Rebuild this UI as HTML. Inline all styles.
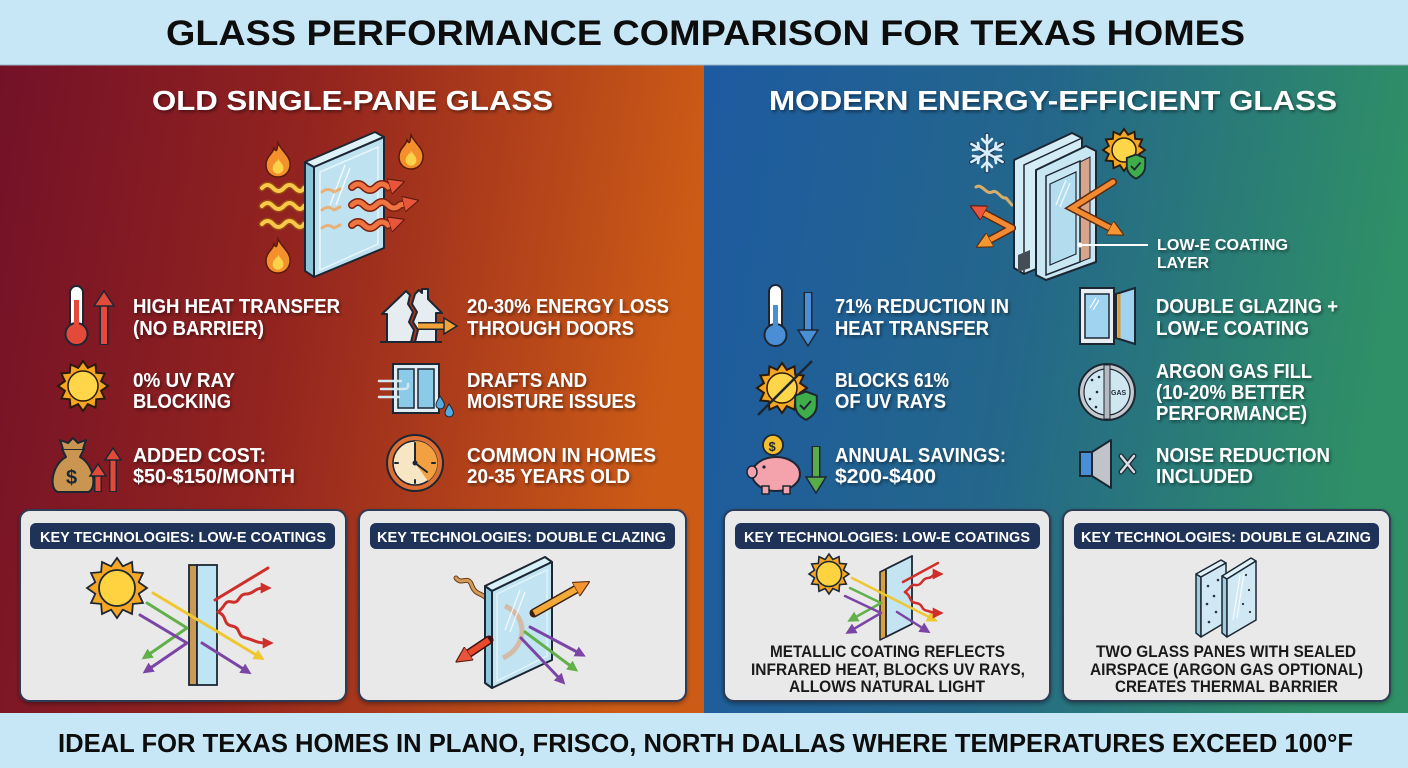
<!DOCTYPE html>
<html><head><meta charset="utf-8"><style>
html,body{margin:0;padding:0;width:1408px;height:768px;overflow:hidden;background:#c8e7f6}
svg{display:block}
text{font-family:"Liberation Sans",Arial,sans-serif;font-weight:bold}
</style></head><body>
<svg width="1408" height="768" viewBox="0 0 1408 768" xmlns="http://www.w3.org/2000/svg">
<defs>
 <linearGradient id="gl" x1="0" y1="0" x2="1" y2="0.15">
  <stop offset="0" stop-color="#731128"/>
  <stop offset="0.45" stop-color="#93241f"/>
  <stop offset="1" stop-color="#cc5b16"/>
 </linearGradient>
 <linearGradient id="gr" x1="0" y1="0" x2="1" y2="0.15">
  <stop offset="0" stop-color="#1d5aa1"/>
  <stop offset="0.5" stop-color="#24678a"/>
  <stop offset="1" stop-color="#2f8f66"/>
 </linearGradient>
 <filter id="sh" x="-5%" y="-20%" width="110%" height="150%">
  <feDropShadow dx="1.5" dy="2" stdDeviation="1.5" flood-color="#000" flood-opacity="0.45"/>
 </filter>
 <filter id="csh" x="-5%" y="-5%" width="110%" height="115%">
  <feDropShadow dx="0" dy="2" stdDeviation="2" flood-color="#000" flood-opacity="0.35"/>
 </filter>
 <polygon id="star" points="100,0 72.4,19.4 86.6,50 53,53 50,86.6 19.4,72.4 0,100 -19.4,72.4 -50,86.6 -53,53 -86.6,50 -72.4,19.4 -100,0 -72.4,-19.4 -86.6,-50 -53,-53 -50,-86.6 -19.4,-72.4 0,-100 19.4,-72.4 50,-86.6 53,-53 86.6,-50 72.4,-19.4"/>
 <path id="flame" d="M0,-17 C4,-8 13,-4 12,6 C11,14 5,17 0,17 C-6,17 -12,13 -12,5 C-12,-4 -5,-6 -4,-12 C-2,-8 -1,-8 0,-17 Z"/>
 <path id="shield" d="M0,-10 L8,-7 L8,0 C8,6 4,9 0,11 C-4,9 -8,6 -8,0 L-8,-7 Z"/>
 <marker id="mo" viewBox="0 0 10 10" refX="3" refY="5" markerUnits="userSpaceOnUse" markerWidth="16" markerHeight="16" orient="auto"><path d="M0,0 L10,5 L0,10 Z" fill="#f3962f" stroke="#5a2a10" stroke-width="0.7"/></marker>
 <marker id="mr" viewBox="0 0 10 10" refX="3" refY="5" markerUnits="userSpaceOnUse" markerWidth="16" markerHeight="16" orient="auto"><path d="M0,0 L10,5 L0,10 Z" fill="#e9553a" stroke="#5a1a10" stroke-width="0.7"/></marker>
 <marker id="mrs" viewBox="0 0 10 10" refX="3" refY="5" markerUnits="userSpaceOnUse" markerWidth="11" markerHeight="11" orient="auto"><path d="M0,0 L10,5 L0,10 Z" fill="#cf2f2a"/></marker>
 <marker id="my" viewBox="0 0 10 10" refX="3" refY="5" markerUnits="userSpaceOnUse" markerWidth="11" markerHeight="11" orient="auto"><path d="M0,0 L10,5 L0,10 Z" fill="#efc72f"/></marker>
 <marker id="mg" viewBox="0 0 10 10" refX="3" refY="5" markerUnits="userSpaceOnUse" markerWidth="11" markerHeight="11" orient="auto"><path d="M0,0 L10,5 L0,10 Z" fill="#62b04a"/></marker>
 <marker id="mp" viewBox="0 0 10 10" refX="3" refY="5" markerUnits="userSpaceOnUse" markerWidth="11" markerHeight="11" orient="auto"><path d="M0,0 L10,5 L0,10 Z" fill="#7b45a6"/></marker>
</defs>

<!-- backgrounds -->
<rect x="0" y="0" width="1408" height="768" fill="#c8e7f6"/>
<rect x="0" y="65" width="704" height="648" fill="url(#gl)"/>
<rect x="704" y="65" width="704" height="648" fill="url(#gr)"/>
<line x1="0" y1="65" x2="1408" y2="65" stroke="#9ab4c2" stroke-width="1"/>

<!-- title -->
<text x="166" y="45" font-size="35" fill="#0d0d0d" textLength="1079" lengthAdjust="spacingAndGlyphs">GLASS PERFORMANCE COMPARISON FOR TEXAS HOMES</text>
<text x="58" y="752" font-size="26" fill="#0d0d0d" textLength="1295" lengthAdjust="spacingAndGlyphs">IDEAL FOR TEXAS HOMES IN PLANO, FRISCO, NORTH DALLAS WHERE TEMPERATURES EXCEED 100°F</text>

<g filter="url(#sh)" fill="#ffffff">
<text x="152" y="110" font-size="28" textLength="401" lengthAdjust="spacingAndGlyphs">OLD SINGLE-PANE GLASS</text>
<text x="769" y="110" font-size="28" textLength="568" lengthAdjust="spacingAndGlyphs">MODERN ENERGY-EFFICIENT GLASS</text>

<g font-size="20">
<text x="133" y="313" textLength="207" lengthAdjust="spacingAndGlyphs">HIGH HEAT TRANSFER</text>
<text x="133" y="335" textLength="131" lengthAdjust="spacingAndGlyphs">(NO BARRIER)</text>
<text x="133" y="387" textLength="102" lengthAdjust="spacingAndGlyphs">0% UV RAY</text>
<text x="133" y="408" textLength="98" lengthAdjust="spacingAndGlyphs">BLOCKING</text>
<text x="133" y="462" textLength="133" lengthAdjust="spacingAndGlyphs">ADDED COST:</text>
<text x="133" y="483" textLength="162" lengthAdjust="spacingAndGlyphs">$50-$150/MONTH</text>

<text x="467" y="313" textLength="202" lengthAdjust="spacingAndGlyphs">20-30% ENERGY LOSS</text>
<text x="467" y="335" textLength="167" lengthAdjust="spacingAndGlyphs">THROUGH DOORS</text>
<text x="467" y="387" textLength="120" lengthAdjust="spacingAndGlyphs">DRAFTS AND</text>
<text x="467" y="408" textLength="169" lengthAdjust="spacingAndGlyphs">MOISTURE ISSUES</text>
<text x="467" y="462" textLength="189" lengthAdjust="spacingAndGlyphs">COMMON IN HOMES</text>
<text x="467" y="483" textLength="163" lengthAdjust="spacingAndGlyphs">20-35 YEARS OLD</text>

<text x="835" y="313" textLength="174" lengthAdjust="spacingAndGlyphs">71% REDUCTION IN</text>
<text x="835" y="335" textLength="154" lengthAdjust="spacingAndGlyphs">HEAT TRANSFER</text>
<text x="835" y="387" textLength="114" lengthAdjust="spacingAndGlyphs">BLOCKS 61%</text>
<text x="835" y="408" textLength="111" lengthAdjust="spacingAndGlyphs">OF UV RAYS</text>
<text x="835" y="462" textLength="171" lengthAdjust="spacingAndGlyphs">ANNUAL SAVINGS:</text>
<text x="835" y="483" textLength="101" lengthAdjust="spacingAndGlyphs">$200-$400</text>

<text x="1156" y="313" textLength="182" lengthAdjust="spacingAndGlyphs">DOUBLE GLAZING +</text>
<text x="1156" y="335" textLength="153" lengthAdjust="spacingAndGlyphs">LOW-E COATING</text>
<text x="1156" y="378" textLength="156" lengthAdjust="spacingAndGlyphs">ARGON GAS FILL</text>
<text x="1156" y="399" textLength="149" lengthAdjust="spacingAndGlyphs">(10-20% BETTER</text>
<text x="1156" y="420" textLength="151" lengthAdjust="spacingAndGlyphs">PERFORMANCE)</text>
<text x="1156" y="462" textLength="174" lengthAdjust="spacingAndGlyphs">NOISE REDUCTION</text>
<text x="1156" y="483" textLength="97" lengthAdjust="spacingAndGlyphs">INCLUDED</text>
</g>
<text x="1157" y="250" font-size="16" textLength="131" lengthAdjust="spacingAndGlyphs">LOW-E COATING</text>
<text x="1157" y="268" font-size="16" textLength="52" lengthAdjust="spacingAndGlyphs">LAYER</text>
</g>

<!-- ===== TOP LEFT ILLUSTRATION ===== -->
<g stroke="#5a1a08" stroke-width="1.5">
 <use href="#flame" transform="translate(278,160)" fill="#f3902c"/>
 <use href="#flame" transform="translate(411,152)" fill="#f3902c"/>
 <use href="#flame" transform="translate(278,256)" fill="#f3902c"/>
</g>
<g fill="#fbd24a">
 <use href="#flame" transform="translate(278,166) scale(0.45)"/>
 <use href="#flame" transform="translate(411,158) scale(0.45)"/>
 <use href="#flame" transform="translate(278,262) scale(0.45)"/>
</g>
<g fill="none" stroke-linecap="round">
 <g stroke="#9a4a10" stroke-width="7">
  <path d="M262,188 q5.5,-6 11,0 t11,0 t11,0 t9,0"/>
  <path d="M262,206 q5.5,-6 11,0 t11,0 t11,0 t9,0"/>
  <path d="M262,224 q5.5,-6 11,0 t11,0 t11,0 t9,0"/>
 </g>
 <g stroke="#f8c84a" stroke-width="4">
  <path d="M262,188 q5.5,-6 11,0 t11,0 t11,0 t9,0"/>
  <path d="M262,206 q5.5,-6 11,0 t11,0 t11,0 t9,0"/>
  <path d="M262,224 q5.5,-6 11,0 t11,0 t11,0 t9,0"/>
 </g>
</g>
<!-- pane -->
<polygon points="305,162 314,167 314,277 305,271" fill="#8ec4da" stroke="#1c2733" stroke-width="2" stroke-linejoin="round"/>
<polygon points="305,162 375,132 384,137 314,167" fill="#dff2f9" stroke="#1c2733" stroke-width="2" stroke-linejoin="round"/>
<polygon points="314,167 384,137 384,248 314,277" fill="#bfe2f0" stroke="#1c2733" stroke-width="2" stroke-linejoin="round"/>
<polygon points="320,172 378,147 378,244 320,270" fill="none" stroke="#e8f6fb" stroke-width="1.5"/>
<g stroke="#ffffff" stroke-width="1.5" opacity="0.8"><line x1="330" y1="205" x2="345" y2="165"/><line x1="336" y1="205" x2="350" y2="168"/></g>
<g fill="none" stroke="#f5a050" stroke-width="3" opacity="0.75" stroke-linecap="round">
 <path d="M322,192 q6,-5 12,0 l6,-3"/><path d="M322,210 q6,-5 12,0 l6,-3"/><path d="M322,228 q6,-5 12,0 l6,-3"/>
</g>
<g fill="none" stroke-linecap="round">
 <g stroke="#7a2010" stroke-width="8">
  <path d="M352,187 q6,-6 12,0 t12,0 t12,0 l6,-2"/>
  <path d="M352,205 q6,-6 12,0 t12,0 t12,0 t12,0 l8,-2"/>
  <path d="M352,225 q6,-6 12,0 t12,0 t12,0 l6,-2"/>
 </g>
 <path d="M352,187 q6,-6 12,0 t12,0 t12,0 l6,-2" stroke="#ef7440" stroke-width="5" marker-end="url(#mr)"/>
 <path d="M352,205 q6,-6 12,0 t12,0 t12,0 t12,0 l8,-2" stroke="#ef7440" stroke-width="5" marker-end="url(#mr)"/>
 <path d="M352,225 q6,-6 12,0 t12,0 t12,0 l6,-2" stroke="#ef7440" stroke-width="5" marker-end="url(#mr)"/>
</g>

<!-- ===== TOP RIGHT ILLUSTRATION ===== -->
<!-- snowflake -->
<g stroke-linecap="round" fill="none">
 <g stroke="#1c3a55" stroke-width="5">
  <line x1="987" y1="135" x2="987" y2="171"/><line x1="971.4" y1="144" x2="1002.6" y2="162"/><line x1="971.4" y1="162" x2="1002.6" y2="144"/>
 </g>
 <g stroke="#d8eefa" stroke-width="2.6">
  <line x1="987" y1="135" x2="987" y2="171"/><line x1="971.4" y1="144" x2="1002.6" y2="162"/><line x1="971.4" y1="162" x2="1002.6" y2="144"/>
  <path d="M982,139 l5,5 l5,-5 M982,167 l5,-5 l5,5 M973,150 l6,-1 l-1,-6 M1001,156 l-6,1 l1,6 M973,156 l6,1 l-1,6 M1001,150 l-6,-1 l1,-6"/>
 </g>
</g>
<!-- sun + shield -->
<use href="#star" transform="translate(1124,150) scale(0.21)" fill="#f5a623" stroke="#2a1a08" stroke-width="9"/>
<circle cx="1124" cy="150" r="12" fill="#ffd54a" stroke="#2a1a08" stroke-width="1.5"/>
<use href="#shield" transform="translate(1136,166) scale(1.15)" fill="#3fae4a" stroke="#1c2733" stroke-width="1.6"/>
<path d="M1131,166 l3.5,3.5 l6,-7" fill="none" stroke="#1c2733" stroke-width="1.8"/>
<!-- wavy -->
<path d="M976,187 C982,183 986,195 992,192 C998,189 1000,199 1006,198 L1012,205" fill="none" stroke="#d6ad6a" stroke-width="3" stroke-linecap="round"/>
<!-- double pane -->
<polygon points="1014,160 1072,133 1082,138 1082,250 1024,274 1014,268" fill="#d4ecf6" stroke="#1c2733" stroke-width="2" stroke-linejoin="round"/>
<polyline points="1024,274 1024,165 1082,138" fill="none" stroke="#1c2733" stroke-width="1.5"/>
<polygon points="1036,170 1086,146 1096,151 1096,262 1046,280 1036,275" fill="#c9e7f3" stroke="#1c2733" stroke-width="2" stroke-linejoin="round"/>
<polygon points="1080,162 1090,157 1090,258 1080,262" fill="#d7a48c" stroke="#1c2733" stroke-width="1"/>
<polygon points="1046,176 1080,161 1080,262 1046,275" fill="none" stroke="#1c2733" stroke-width="1.5"/>
<polygon points="1050,184 1076,172 1076,254 1050,265" fill="#b3ddef" stroke="#1c2733" stroke-width="1.2"/>
<polygon points="1018,255 1030,250 1030,268 1018,272" fill="#444c55"/>
<g stroke="#ffffff" stroke-width="1.3" opacity="0.8"><line x1="1056" y1="205" x2="1066" y2="180"/><line x1="1060" y1="207" x2="1070" y2="183"/></g>
<!-- orange arrows -->
<g fill="none" stroke-linecap="round">
 <g stroke="#5a2a10" stroke-width="8">
  <line x1="1012" y1="228" x2="980" y2="211"/><line x1="1012" y1="228" x2="986" y2="242"/>
  <polyline points="1113,182 1072,208 1114,230"/>
 </g>
 <g stroke="#f28a32" stroke-width="5">
  <line x1="1012" y1="228" x2="980" y2="211" marker-end="url(#mr)"/>
  <line x1="1012" y1="228" x2="986" y2="242" marker-end="url(#mo)"/>
  <polyline points="1113,182 1072,208 1114,230" marker-end="url(#mo)"/>
 </g>
</g>
<line x1="1080" y1="245" x2="1148" y2="245" stroke="#ffffff" stroke-width="2"/>
<circle cx="1080" cy="245" r="2.5" fill="#ffffff"/>

<!-- ===== LEFT ICONS ===== -->
<!-- thermometer red -->
<rect x="70" y="286" width="13" height="50" rx="6.5" fill="#ffffff" stroke="#1c2733" stroke-width="2"/>
<rect x="74" y="300" width="5" height="34" fill="#e34a3a"/>
<circle cx="76.5" cy="334" r="11" fill="#e34a3a" stroke="#1c2733" stroke-width="2"/>
<rect x="74" y="318" width="5" height="10" fill="#e34a3a"/>
<line x1="104" y1="345" x2="104" y2="304" stroke="#1c2733" stroke-width="9"/>
<line x1="104" y1="344" x2="104" y2="304" stroke="#e34a3a" stroke-width="6"/>
<polygon points="94,306 104,291 114,306" fill="#e34a3a" stroke="#1c2733" stroke-width="1.5"/>
<!-- sun -->
<use href="#star" transform="translate(83,386) scale(0.25)" fill="#f5a623" stroke="#2a1a08" stroke-width="8"/>
<circle cx="83" cy="386" r="15" fill="#ffd54a" stroke="#2a1a08" stroke-width="1.5"/>
<!-- money bag -->
<path d="M62,449 L84,449 L80,457 C95,465 97,490 88,492 L58,492 C49,490 51,465 66,457 Z" fill="#c99551" stroke="#1c2733" stroke-width="2" stroke-linejoin="round"/>
<path d="M63,449 L60,440 L68,443 L73,438 L78,443 L86,440 L83,449" fill="#c99551" stroke="#1c2733" stroke-width="2" stroke-linejoin="round"/>
<text x="66" y="484" font-size="20" fill="#1c2733">$</text>
<g>
 <line x1="98" y1="492" x2="98" y2="474" stroke="#1c2733" stroke-width="8"/>
 <line x1="98" y1="491" x2="98" y2="474" stroke="#e34a3a" stroke-width="5"/>
 <polygon points="90,476 98,464 106,476" fill="#e34a3a" stroke="#1c2733" stroke-width="1.5"/>
 <line x1="113" y1="492" x2="113" y2="458" stroke="#1c2733" stroke-width="8"/>
 <line x1="113" y1="491" x2="113" y2="458" stroke="#e34a3a" stroke-width="5"/>
 <polygon points="105,460 113,448 121,460" fill="#e34a3a" stroke="#1c2733" stroke-width="1.5"/>
</g>
<!-- house -->
<path d="M387,342 L387,314 L382,314 L406,291 L410,295 L408,304 L413,312 L409,322 L414,330 L411,342 Z" fill="#e6ecf0" stroke="#1c2733" stroke-width="2" stroke-linejoin="round"/>
<path d="M415,342 L418,330 L413,322 L417,312 L412,304 L415,294 L419,290 L422,293 L422,289 L428,289 L428,299 L442,313 L436,313 L436,342 Z" fill="#e6ecf0" stroke="#1c2733" stroke-width="2" stroke-linejoin="round"/>
<line x1="380" y1="342" x2="442" y2="342" stroke="#1c2733" stroke-width="2"/>
<line x1="418" y1="326" x2="446" y2="326" stroke="#1c2733" stroke-width="8"/>
<line x1="418" y1="326" x2="446" y2="326" stroke="#f3a33a" stroke-width="5"/>
<polygon points="444,318 457,326 444,334" fill="#f3a33a" stroke="#1c2733" stroke-width="1.5"/>
<!-- drafty window -->
<rect x="393" y="364" width="46" height="49" fill="#dfeef5" stroke="#1c2733" stroke-width="2"/>
<rect x="398" y="369" width="16" height="39" fill="#8ccaea" stroke="#1c2733" stroke-width="1.5"/>
<rect x="418" y="369" width="16" height="39" fill="#8ccaea" stroke="#1c2733" stroke-width="1.5"/>
<g stroke="#d4e8f2" stroke-width="2.5" stroke-linecap="round" fill="none">
 <line x1="379" y1="381" x2="401" y2="381"/><path d="M381,389 L404,389 q5,0 4,-5"/><line x1="379" y1="397" x2="399" y2="397"/>
</g>
<path d="M440,396 C444,402 446,405 443,408 C440,410 436,408 436,405 C436,402 438,400 440,396 Z" fill="#55abe0" stroke="#1c2733" stroke-width="1"/>
<path d="M449,404 C453,410 455,413 452,416 C449,418 445,416 445,413 C445,410 447,408 449,404 Z" fill="#55abe0" stroke="#1c2733" stroke-width="1"/>
<!-- clock -->
<circle cx="415" cy="463" r="28" fill="#de6e34" stroke="#1c2733" stroke-width="2"/>
<circle cx="415" cy="463" r="22" fill="#f6e6c4" stroke="#1c2733" stroke-width="1.5"/>
<path d="M415,463 L415,441 A22,22 0 0,1 428,481 Z" fill="#f2a040"/>
<g stroke="#1c2733" stroke-width="2" stroke-linecap="round">
 <line x1="415" y1="463" x2="415" y2="447"/><line x1="415" y1="463" x2="427" y2="472"/>
 <line x1="415" y1="443" x2="415" y2="446"/><line x1="415" y1="480" x2="415" y2="483"/><line x1="395" y1="463" x2="398" y2="463"/><line x1="432" y1="463" x2="435" y2="463"/>
</g>
<circle cx="415" cy="463" r="2.5" fill="#1c2733"/>

<!-- ===== RIGHT ICONS ===== -->
<!-- thermometer blue -->
<rect x="769" y="285" width="13" height="50" rx="6.5" fill="#ffffff" stroke="#1c2733" stroke-width="2"/>
<rect x="773" y="305" width="5" height="30" fill="#4a8fd6"/>
<circle cx="775.5" cy="335" r="11" fill="#4a8fd6" stroke="#1c2733" stroke-width="2"/>
<rect x="773" y="318" width="5" height="10" fill="#4a8fd6"/>
<line x1="808" y1="292" x2="808" y2="332" stroke="#1c2733" stroke-width="9"/>
<line x1="808" y1="293" x2="808" y2="332" stroke="#4a8fd6" stroke-width="6"/>
<polygon points="798,330 808,346 818,330" fill="#4a8fd6" stroke="#1c2733" stroke-width="1.5"/>
<!-- sun crossed -->
<use href="#star" transform="translate(782,388) scale(0.25)" fill="#f5a623" stroke="#2a1a08" stroke-width="8"/>
<circle cx="782" cy="388" r="15" fill="#ffd54a" stroke="#2a1a08" stroke-width="1.5"/>
<line x1="758" y1="415" x2="812" y2="361" stroke="#1c2733" stroke-width="2.5"/>
<use href="#shield" transform="translate(806,405) scale(1.35)" fill="#3fae4a" stroke="#1c2733" stroke-width="1.5"/>
<path d="M800,405 l4,4 l7,-8" fill="none" stroke="#1c2733" stroke-width="2"/>
<!-- piggy -->
<ellipse cx="776" cy="474" rx="24" ry="17" fill="#f4a3ac" stroke="#1c2733" stroke-width="2"/>
<ellipse cx="752" cy="472" rx="5" ry="6" fill="#f4a3ac" stroke="#1c2733" stroke-width="1.5"/>
<rect x="762" y="486" width="7" height="8" fill="#f4a3ac" stroke="#1c2733" stroke-width="1.5"/>
<rect x="783" y="486" width="7" height="8" fill="#f4a3ac" stroke="#1c2733" stroke-width="1.5"/>
<circle cx="764" cy="467" r="1.6" fill="#1c2733"/>
<circle cx="773" cy="445" r="10" fill="#f5c02e" stroke="#1c2733" stroke-width="1.8"/>
<text x="768.5" y="451" font-size="13" fill="#1c2733">$</text>
<line x1="816" y1="446" x2="816" y2="480" stroke="#1c2733" stroke-width="9"/>
<line x1="816" y1="447" x2="816" y2="480" stroke="#5aac4a" stroke-width="6"/>
<polygon points="806,477 816,493 826,477" fill="#5aac4a" stroke="#1c2733" stroke-width="1.5"/>
<!-- open window -->
<rect x="1080" y="288" width="34" height="56" fill="#e8eef2" stroke="#1c2733" stroke-width="2"/>
<rect x="1085" y="294" width="24" height="44" fill="#9fd3ef" stroke="#1c2733" stroke-width="1.5"/>
<polygon points="1116,294 1135,288 1135,344 1116,338" fill="#9fd3ef" stroke="#1c2733" stroke-width="2"/>
<line x1="1119" y1="294" x2="1119" y2="338" stroke="#d99a3a" stroke-width="3"/>
<g stroke="#ffffff" stroke-width="1.2"><line x1="1090" y1="308" x2="1096" y2="298"/><line x1="1093" y1="310" x2="1099" y2="300"/></g>
<!-- gas circle -->
<circle cx="1107" cy="392" r="28" fill="#c6cacf" stroke="#1c2733" stroke-width="2"/>
<circle cx="1107" cy="392" r="23" fill="#cfe7f1" stroke="#1c2733" stroke-width="1.2"/>
<rect x="1104" y="365" width="6" height="54" fill="#b5babf" stroke="#1c2733" stroke-width="1"/>
<g fill="#1c2733"><circle cx="1092" cy="380" r="1.3"/><circle cx="1097" cy="392" r="1.3"/><circle cx="1090" cy="399" r="1.3"/><circle cx="1096" cy="407" r="1.3"/><circle cx="1099" cy="377" r="1.3"/></g>
<text x="1111" y="395" font-size="7" fill="#1c2733">GAS</text>
<!-- speaker -->
<rect x="1080" y="452" width="12" height="24" fill="#4a8fd6" stroke="#1c2733" stroke-width="2"/>
<polygon points="1092,452 1111,440 1111,488 1092,476" fill="#c0c4c8" stroke="#1c2733" stroke-width="2" stroke-linejoin="round"/>
<g stroke="#1c2733" stroke-width="5" stroke-linecap="round"><line x1="1121" y1="456" x2="1134" y2="472"/><line x1="1134" y1="456" x2="1121" y2="472"/></g>
<g stroke="#d8dde2" stroke-width="2.5" stroke-linecap="round"><line x1="1121" y1="456" x2="1134" y2="472"/><line x1="1134" y1="456" x2="1121" y2="472"/></g>

<!-- ===== CARDS ===== -->
<g filter="url(#csh)" fill="#e9e9e9" stroke="#2f3a55" stroke-width="2">
 <rect x="20" y="510" width="326" height="191" rx="10"/>
 <rect x="359" y="510" width="327" height="191" rx="10"/>
 <rect x="724" y="510" width="326" height="191" rx="10"/>
 <rect x="1063" y="510" width="327" height="191" rx="10"/>
</g>
<g fill="#1f3358">
 <rect x="30" y="523" width="305" height="26" rx="6"/>
 <rect x="370" y="523" width="305" height="26" rx="6"/>
 <rect x="735" y="523" width="305" height="26" rx="6"/>
 <rect x="1074" y="523" width="305" height="26" rx="6"/>
</g>
<g fill="#ffffff" font-size="15">
 <text x="40" y="542" textLength="286" lengthAdjust="spacingAndGlyphs">KEY TECHNOLOGIES: LOW-E COATINGS</text>
 <text x="377" y="542" textLength="289" lengthAdjust="spacingAndGlyphs">KEY TECHNOLOGIES: DOUBLE CLAZING</text>
 <text x="744" y="542" textLength="286" lengthAdjust="spacingAndGlyphs">KEY TECHNOLOGIES: LOW-E COATINGS</text>
 <text x="1081" y="542" textLength="290" lengthAdjust="spacingAndGlyphs">KEY TECHNOLOGIES: DOUBLE GLAZING</text>
</g>
<g fill="#1a1a1a" font-size="17">
 <text x="770" y="657" textLength="235" lengthAdjust="spacingAndGlyphs">METALLIC COATING REFLECTS</text>
 <text x="751" y="675" textLength="274" lengthAdjust="spacingAndGlyphs">INFRARED HEAT, BLOCKS UV RAYS,</text>
 <text x="789" y="692" textLength="196" lengthAdjust="spacingAndGlyphs">ALLOWS NATURAL LIGHT</text>
 <text x="1096" y="657" textLength="260" lengthAdjust="spacingAndGlyphs">TWO GLASS PANES WITH SEALED</text>
 <text x="1090" y="675" textLength="273" lengthAdjust="spacingAndGlyphs">AIRSPACE (ARGON GAS OPTIONAL)</text>
 <text x="1115" y="692" textLength="223" lengthAdjust="spacingAndGlyphs">CREATES THERMAL BARRIER</text>
</g>

<!-- card 1 illustration -->
<use href="#star" transform="translate(117,588) scale(0.30)" fill="#f5a623" stroke="#1c2733" stroke-width="6"/>
<circle cx="117" cy="588" r="18" fill="#ffd23f" stroke="#1c2733" stroke-width="1.8"/>
<rect x="189" y="565" width="8" height="120" fill="#c99a55" stroke="#1c2733" stroke-width="1.8"/>
<rect x="197" y="565" width="20" height="120" fill="#bfe4f3" stroke="#1c2733" stroke-width="1.8"/>
<g fill="none" stroke-width="3" stroke-linecap="round" stroke-linejoin="round">
 <line x1="153" y1="593" x2="258" y2="656" stroke="#efc72f" marker-end="url(#my)"/>
 <polyline points="147,603 187,628 148,655" stroke="#62b04a" marker-end="url(#mg)"/>
 <polyline points="140,615 187,643 149,669" stroke="#7b45a6" marker-end="url(#mp)"/>
 <line x1="202" y1="643" x2="245" y2="670" stroke="#7b45a6" marker-end="url(#mp)"/>
 <line x1="215" y1="600" x2="268" y2="568" stroke="#cf2f2a"/>
 <path d="M218,612 C226,606 224,600 232,602 C240,604 238,594 246,594 C254,594 254,588 264,588" stroke="#cf2f2a" marker-end="url(#mrs)"/>
 <path d="M218,612 C228,616 222,624 232,626 C242,628 236,636 246,638 C254,640 256,643 266,643" stroke="#cf2f2a" marker-end="url(#mrs)"/>
</g>

<!-- card 2 illustration -->
<path d="M456,578 C462,586 468,574 472,586 C476,596 482,592 488,600" fill="none" stroke="#6a3a14" stroke-width="5" stroke-linecap="round"/>
<path d="M456,578 C462,586 468,574 472,586 C476,596 482,592 488,600" fill="none" stroke="#d39a5a" stroke-width="3" stroke-linecap="round"/>
<polygon points="485,586 492,591 492,688 485,683" fill="#8fc6db" stroke="#1c2733" stroke-width="2" stroke-linejoin="round"/>
<polygon points="485,586 545,557 552,562 492,591" fill="#d8f0f8" stroke="#1c2733" stroke-width="2" stroke-linejoin="round"/>
<polygon points="492,591 552,562 552,660 492,688" fill="#c2e4f2" stroke="#1c2733" stroke-width="2" stroke-linejoin="round"/>
<polygon points="497,594 547,570 547,656 497,681" fill="none" stroke="#e8f6fb" stroke-width="1.2"/>
<path d="M505,606 C528,616 528,646 503,658" fill="none" stroke="#dca888" stroke-width="5" opacity="0.7"/>
<g stroke="#ffffff" stroke-width="1.3" opacity="0.8"><line x1="505" y1="630" x2="520" y2="590"/><line x1="510" y1="632" x2="525" y2="592"/></g>
<line x1="534" y1="613" x2="580" y2="587" stroke="#3a2210" stroke-width="9" stroke-linecap="round"/>
<line x1="534" y1="613" x2="580" y2="587" stroke="#f3a83a" stroke-width="6" marker-end="url(#mo)"/>
<line x1="489" y1="640" x2="465" y2="656" stroke="#3a1210" stroke-width="9" stroke-linecap="round"/>
<line x1="489" y1="640" x2="465" y2="656" stroke="#e8482c" stroke-width="6" marker-end="url(#mr)"/>
<g stroke-width="3" stroke-linecap="round">
 <line x1="530" y1="627" x2="579" y2="653" stroke="#7b45a6" marker-end="url(#mp)"/>
 <line x1="525" y1="632" x2="572" y2="667" stroke="#62b04a" marker-end="url(#mg)"/>
 <line x1="521" y1="638" x2="560" y2="679" stroke="#7b45a6" marker-end="url(#mp)"/>
</g>

<!-- card 3 illustration -->
<use href="#star" transform="translate(829,574) scale(0.20)" fill="#f5a623" stroke="#1c2733" stroke-width="8"/>
<circle cx="829" cy="574" r="12.5" fill="#ffd23f" stroke="#1c2733" stroke-width="1.5"/>
<polygon points="880,572 886,569 886,637 880,640" fill="#d9a040" stroke="#1c2733" stroke-width="1.5" stroke-linejoin="round"/>
<polygon points="880,572 906,559 912,556 886,569" fill="#d8f0f8" stroke="#1c2733" stroke-width="1.5" stroke-linejoin="round"/>
<polygon points="886,569 912,556 912,624 886,637" fill="#c4e4f2" stroke="#1c2733" stroke-width="1.8" stroke-linejoin="round"/>
<g fill="none" stroke-width="2.5" stroke-linecap="round" stroke-linejoin="round">
 <line x1="852" y1="578" x2="931" y2="618" stroke="#efc72f" marker-end="url(#my)"/>
 <polyline points="850,588 881,603 854,618" stroke="#62b04a" marker-end="url(#mg)"/>
 <polyline points="845,596 881,613 852,630" stroke="#7b45a6" marker-end="url(#mp)"/>
 <line x1="897" y1="612" x2="924" y2="629" stroke="#7b45a6" marker-end="url(#mp)"/>
 <line x1="903" y1="582" x2="938" y2="563" stroke="#cf2f2a"/>
 <path d="M905,592 C911,588 910,584 916,585 C922,586 922,578 928,578 C932,578 933,574 936,574" stroke="#cf2f2a" marker-end="url(#mrs)"/>
 <path d="M905,592 C912,596 908,602 916,603 C924,604 920,610 928,611 C932,612 933,613 936,613" stroke="#cf2f2a" marker-end="url(#mrs)"/>
</g>

<!-- card 4 illustration -->
<polygon points="1196,574 1201,577 1201,637 1196,633" fill="#9ccde0" stroke="#1c2733" stroke-width="1.5" stroke-linejoin="round"/>
<polygon points="1196,574 1221,560 1226,563 1201,577" fill="#dff2f9" stroke="#1c2733" stroke-width="1.5" stroke-linejoin="round"/>
<polygon points="1201,577 1226,563 1226,622 1201,637" fill="#cfe8f3" stroke="#1c2733" stroke-width="1.5" stroke-linejoin="round"/>
<polygon points="1222,576 1227,579 1227,637 1222,633" fill="#9ccde0" stroke="#1c2733" stroke-width="1.5" stroke-linejoin="round"/>
<polygon points="1222,576 1251,558 1256,561 1227,579" fill="#dff2f9" stroke="#1c2733" stroke-width="1.5" stroke-linejoin="round"/>
<polygon points="1227,579 1256,561 1256,620 1227,637" fill="#cfe8f3" stroke="#1c2733" stroke-width="1.5" stroke-linejoin="round"/>
<g fill="#2a3340">
 <circle cx="1208" cy="586" r="1.3"/><circle cx="1214" cy="596" r="1.3"/><circle cx="1207" cy="604" r="1.3"/><circle cx="1216" cy="612" r="1.3"/><circle cx="1209" cy="622" r="1.3"/><circle cx="1218" cy="580" r="1.3"/>
 <circle cx="1246" cy="575" r="1.1"/><circle cx="1249" cy="590" r="1.1"/><circle cx="1243" cy="604" r="1.1"/><circle cx="1250" cy="612" r="1.1"/>
</g>
<g stroke="#ffffff" stroke-width="1.2" opacity="0.85"><line x1="1233" y1="620" x2="1240" y2="575"/><line x1="1237" y1="618" x2="1244" y2="573"/></g>
</svg>
</body></html>
